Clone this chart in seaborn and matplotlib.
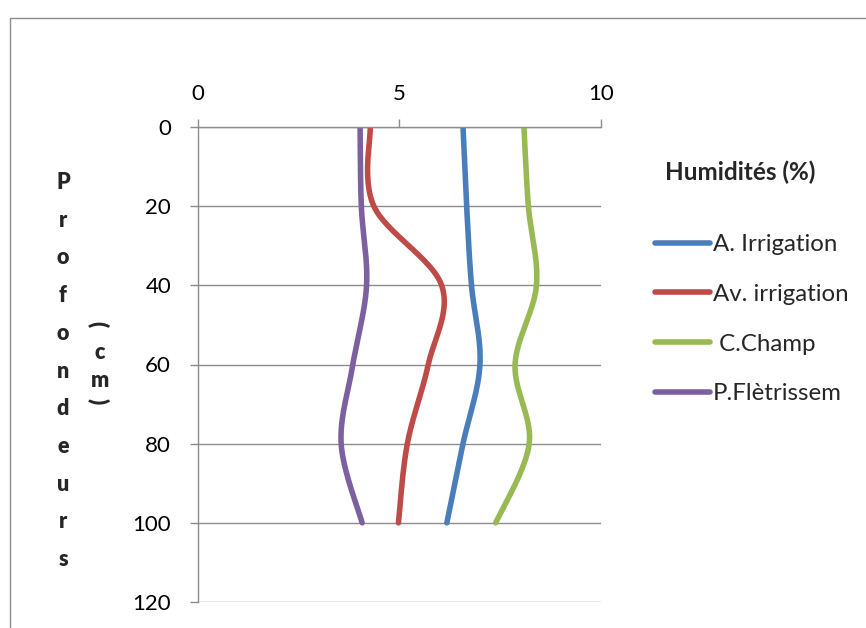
import numpy as np
import pandas as pd
import matplotlib
matplotlib.use("Agg")
import matplotlib.pyplot as plt
from matplotlib.patches import Rectangle
import seaborn as sns

# Soil moisture (%) measured at each depth (cm)
depths = [0, 20, 40, 60, 80, 100]
a_irrigation = [6.58, 6.67, 6.79, 7.00, 6.58, 6.18]
av_irrigation = [4.28, 4.37, 6.05, 5.72, 5.20, 4.98]
c_champ = [8.09, 8.20, 8.40, 7.87, 8.22, 7.39]
p_fletrissement = [4.03, 4.06, 4.19, 3.85, 3.56, 4.08]

series_names = ["A. Irrigation", "Av. irrigation", " C.Champ", "P.Flètrissem"]
series_values = [a_irrigation, av_irrigation, c_champ, p_fletrissement]
colors = ["#4A7EBB", "#BE4B48", "#98B954", "#7D60A0"]

x_ticks = [0, 5, 10]
y_ticks = [0, 20, 40, 60, 80, 100, 120]


def smooth(xs, ys, n=30):
    """Cardinal (Bezier) smoothing through the measured points."""
    pts = np.column_stack([xs, ys]).astype(float)
    ext = np.vstack([pts[0], pts, pts[-1]])
    out = []
    t = np.linspace(0, 1, n)[:, None]
    for i in range(1, len(ext) - 2):
        p0, p1, p2, p3 = ext[i - 1], ext[i], ext[i + 1], ext[i + 2]
        c1 = p1 + (p2 - p0) / 6.0
        c2 = p2 - (p3 - p1) / 6.0
        seg = ((1 - t) ** 3) * p1 + 3 * ((1 - t) ** 2) * t * c1 + 3 * (1 - t) * t ** 2 * c2 + t ** 3 * p2
        out.append(seg if i == 1 else seg[1:])
    return np.vstack(out)


frames = []
for name, vals in zip(series_names, series_values):
    curve = smooth(vals, depths)
    frames.append(pd.DataFrame({"humidite": curve[:, 0], "profondeur": curve[:, 1],
                                "serie": name}))
df = pd.concat(frames, ignore_index=True)

sns.set_theme(style="white")
plt.rcParams["font.family"] = ["Lato", "DejaVu Sans"]

W, H = 866, 628
fig = plt.figure(figsize=(W / 100, H / 100), dpi=100)
fig.patches.append(Rectangle((10 / W, -0.2), 1, 1.2 - 18 / H, transform=fig.transFigure,
                             fill=False, edgecolor="#8C8C8C", linewidth=1.0))

ax = fig.add_axes([197.5 / W, 1 - 602 / H, (601 - 197.5) / W, (602 - 127) / H])
sns.lineplot(data=df, x="humidite", y="profondeur", hue="serie", hue_order=series_names,
             palette=colors, sort=False, estimator=None, linewidth=4, ax=ax,
             solid_capstyle="round", legend=False)

ax.set_xlim(0, 10)
ax.set_ylim(120, 0)
ax.set_xticks(x_ticks)
ax.set_yticks(y_ticks)
ax.xaxis.tick_top()
ax.set_xlabel("")
ax.set_ylabel("")
ax.tick_params(axis="x", which="both", top=True, bottom=False, length=5.5, width=1,
               color="#8C8C8C", labelsize=16, pad=11, labelcolor="#000000")
ax.tick_params(axis="y", which="both", left=True, length=6, width=1,
               color="#8C8C8C", labelsize=16, pad=13, labelcolor="#000000")
ax.yaxis.grid(True, color="#8C8C8C", linewidth=1)
ax.xaxis.grid(False)
for side in ["right", "bottom"]:
    ax.spines[side].set_visible(False)
for side in ["left", "top"]:
    ax.spines[side].set_color("#8C8C8C")
    ax.spines[side].set_linewidth(1)

# Vertical stacked axis title
word = "Profondeurs"
for i, ch in enumerate(word):
    fig.text(63 / W, 1 - (189 + 37.7 * i) / H, ch, ha="center", va="baseline",
             fontsize=15.5, fontweight="heavy")
fig.text(98 / W, 1 - 324 / H, "(", rotation=-90, ha="center", va="center",
         fontsize=16, fontweight="heavy")
fig.text(100 / W, 1 - 359 / H, "c", ha="center", va="baseline", fontsize=15.5, fontweight="heavy")
fig.text(100 / W, 1 - 387 / H, "m", ha="center", va="baseline", fontsize=15.5, fontweight="heavy")
fig.text(98 / W, 1 - 401 / H, ")", rotation=-90, ha="center", va="center",
         fontsize=16, fontweight="heavy")

# Legend
fig.text(665 / W, 1 - 172 / H, "Humidités (%)", ha="left", va="center",
         fontsize=17.5, fontweight="bold")
handles = [plt.Line2D([0], [0], color=c, linewidth=4, solid_capstyle="round") for c in colors]
fig.legend(handles, series_names, loc="upper left", bbox_to_anchor=(655 / W, 1 - 234 / H),
           frameon=False, fontsize=17.3, handlelength=2.3, handletextpad=0.12,
           labelspacing=1.2, borderaxespad=0, borderpad=0)

fig.savefig("out.png", dpi=100)
